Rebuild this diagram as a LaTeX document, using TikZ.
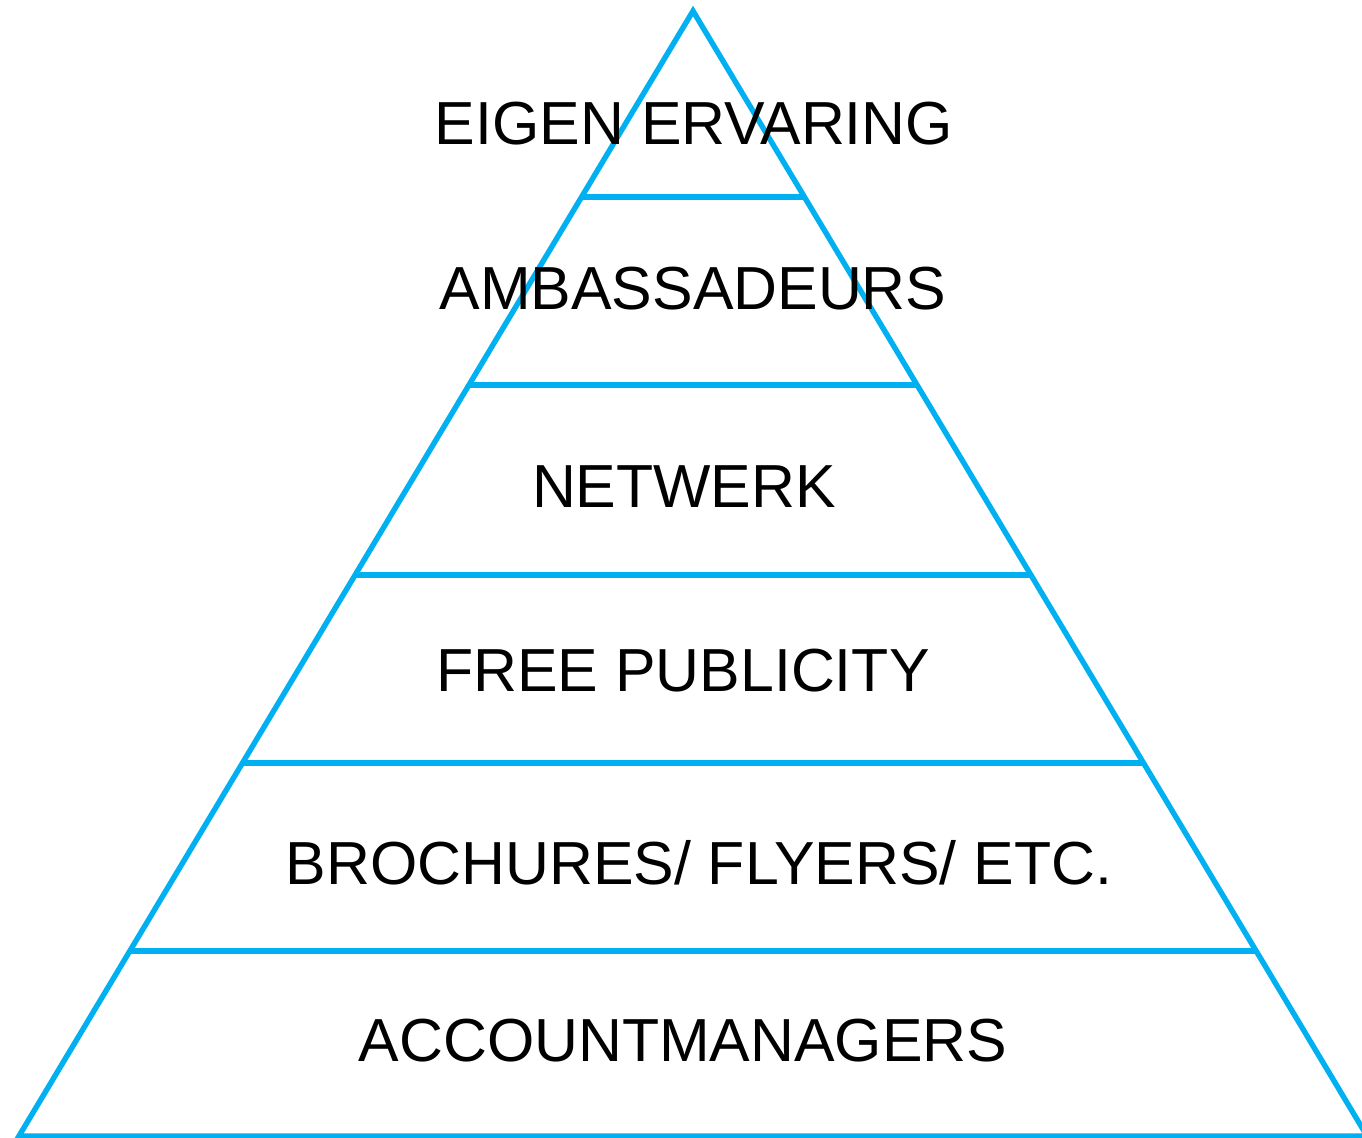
\documentclass[tikz,border=0pt]{standalone}
\usepackage{fontspec}
\setmainfont{Liberation Sans}
\usetikzlibrary{calc}
\definecolor{pyrblue}{RGB}{0,176,240}
\tikzset{
    edge/.style={draw=pyrblue, line width=2.7pt, line join=miter},
    tiertext/.style={font=\fontsize{30.4}{36}\selectfont, inner sep=0pt, anchor=base}
}
\begin{document}
\begin{tikzpicture}[x=0.5pt, y=-0.5pt]
    \useasboundingbox (0,0) rectangle (1362,1138);
    \coordinate (top) at (693,11);
    \coordinate (bl) at (19,1136);
    \coordinate (br) at (1367,1136);
    % outline of the pyramid
    \draw[edge] (top) -- (bl) -- (br) -- cycle;
    % dividing lines, fraction of the height from the top
    \foreach \n/\h in {1/197, 2/385, 3/575, 4/763, 5/951} {
        \pgfmathsetmacro{\t}{(\h-11)/(1136-11)}
        \coordinate (l\n) at ($(top)!\t!(bl)$);
        \coordinate (r\n) at ($(top)!\t!(br)$);
        \draw[edge] (l\n) -- (r\n);
    }
    \node[tiertext] (eigen) at (694,145) {EIGEN ERVARING};
    \node[tiertext] (amb) at (693,310) {AMBASSADEURS};
    \node[tiertext] (netw) at (684,508) {NETWERK};
    \node[tiertext] (free) at (683,692) {FREE PUBLICITY};
    \node[tiertext] (broch) at (699,885) {BROCHURES/ FLYERS/ ETC.};
    \node[tiertext] (acc) at (683,1062) {ACCOUNTMANAGERS};
\end{tikzpicture}
\end{document}
